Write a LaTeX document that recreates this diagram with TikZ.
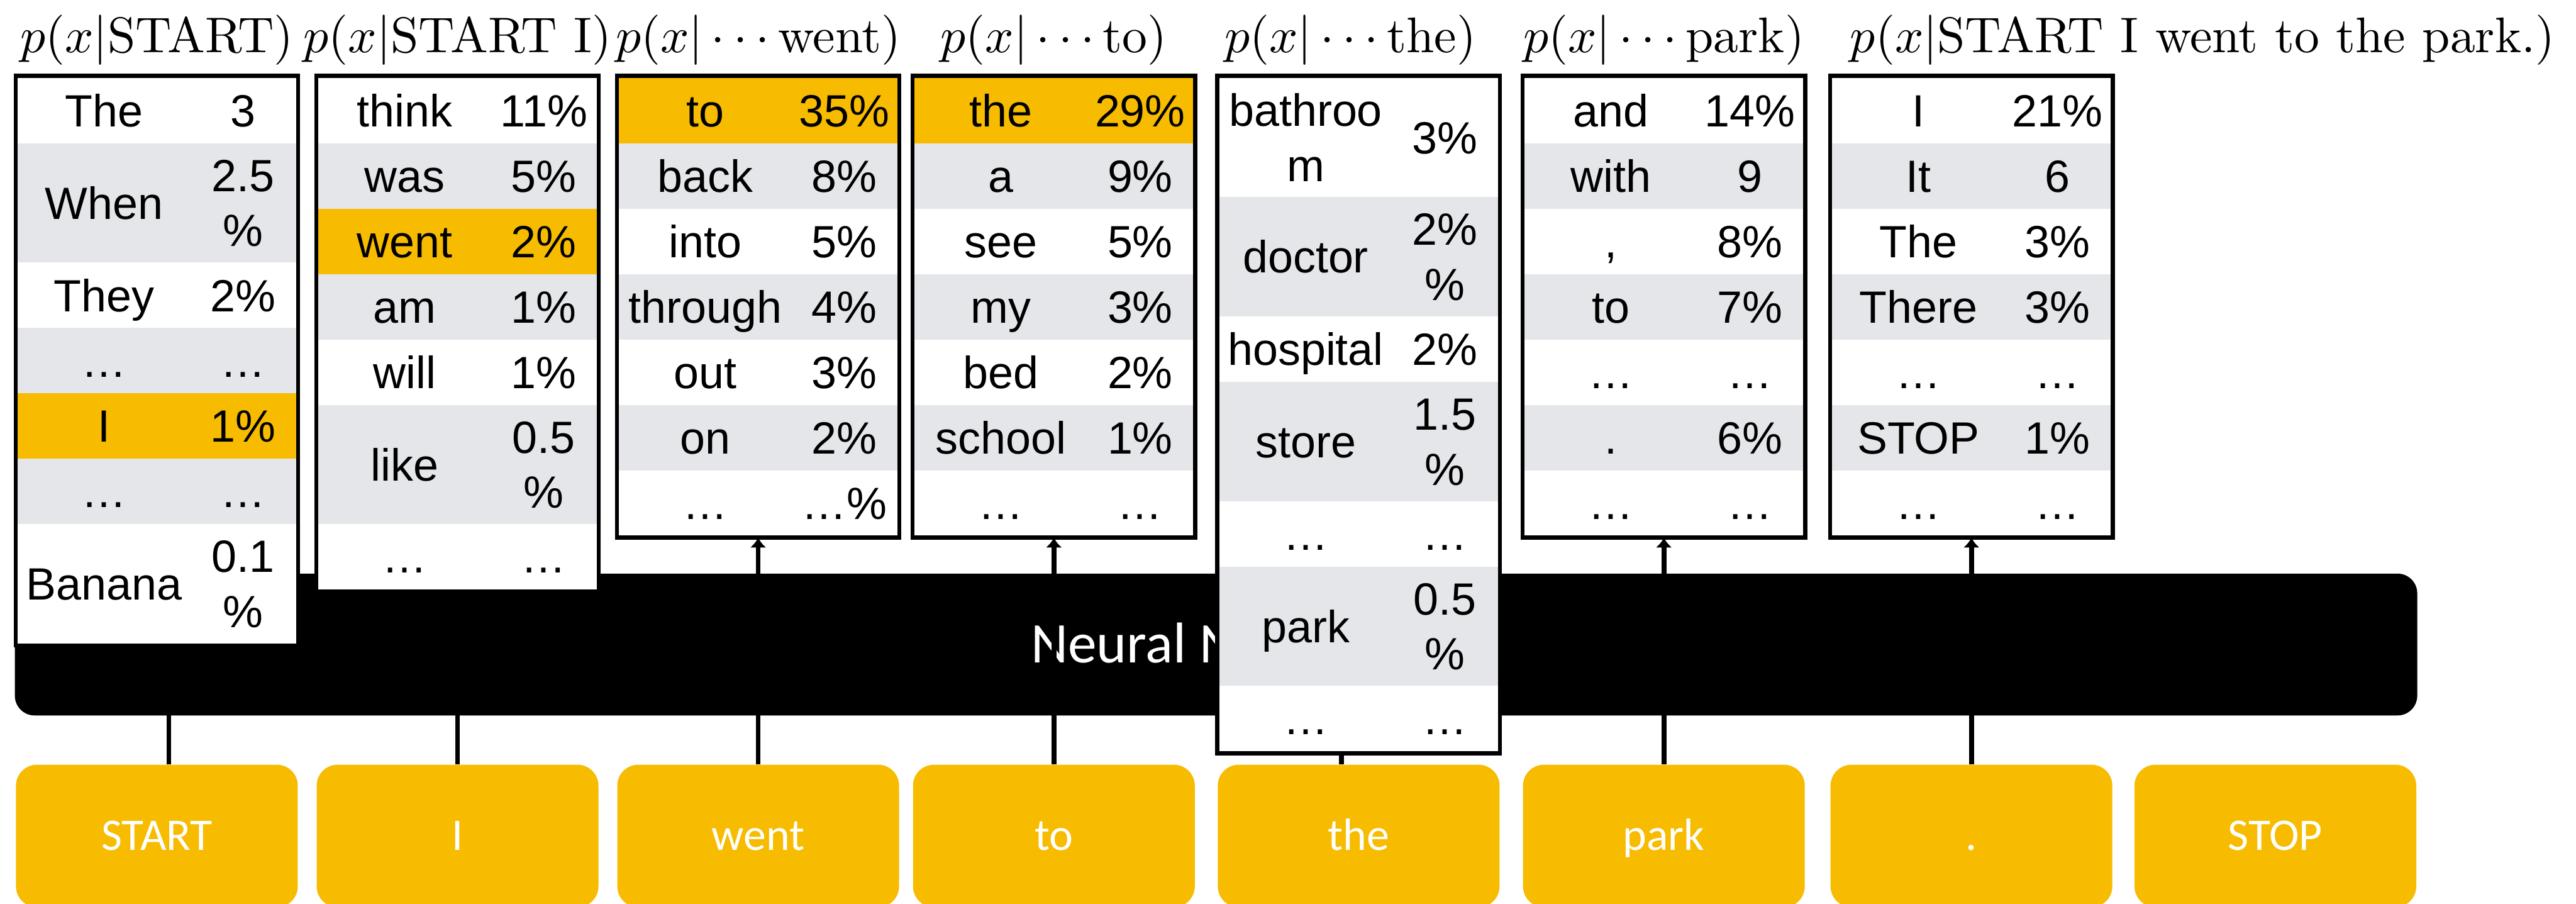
\RequirePackage{fix-cm}
\documentclass[tikz,border=0pt]{standalone}
\usepackage{amsmath}
\usepackage{graphicx}
\usepackage{fontspec}
\usepackage{xcolor}
\usetikzlibrary{matrix,arrows.meta}
\newfontfamily\arialfont{Liberation Sans}
\newfontfamily\calibrifont{Carlito}
\definecolor{hilite}{RGB}{247,187,0}
\definecolor{rowgray}{RGB}{229,230,234}
\pgfdeclarelayer{back}
\pgfsetlayers{back,main}
% two lines in one cell, baseline on the first line
\newcommand\stk[2]{\begin{tabular}[t]{@{}c@{}}#1\\#2\end{tabular}}
% heading formulas, set at 10pt and blown up
\newcommand\bigtitle[1]{\scalebox{3.05}{$#1$}}
\newcommand\dotsprev{\,{\cdot}\,{\cdot}\,{\cdot}\,}

\tikzset{
	probs/.style={matrix of nodes, draw, line width=2.5pt, fill=white,
		inner sep=1.25pt, outer sep=0pt, matrix anchor=north,
		nodes={anchor=center, inner sep=0pt, outer sep=0pt,
			minimum height=39.8pt, text height=19.7pt, text depth=0pt,
			font=\fontsize{27.5}{33.6}\selectfont\arialfont},
		column 1/.style={nodes={minimum width=105pt}},
		column 2/.style={nodes={minimum width=64.5pt}},
		every even row/.style={nodes={fill=rowgray}}},
	hl/.style={nodes={fill=hilite}},
	dbl/.style={nodes={minimum height=72.6pt}},
	two/.style={text height=20pt, text depth=34pt},
	tok/.style={fill=hilite, rounded corners=12.7pt, minimum width=171.5pt,
		minimum height=86.7pt, text=white, text height=17.7pt, text depth=0pt,
		font=\fontsize{27.5}{33}\selectfont\calibrifont},
	net/.style={fill=black, rounded corners=12pt, minimum width=1462.3pt,
		minimum height=86.3pt, text=white, text height=22.5pt, text depth=0pt,
		font=\fontsize{35}{42}\selectfont\calibrifont},
	ttl/.style={anchor=base, inner sep=0pt},
	link/.style={line width=3pt},
	arr/.style={link, -{Latex[length=6pt,width=10pt]}}
}

\begin{document}
\begin{tikzpicture}[x=1pt,y=-1pt]
	\useasboundingbox (0,0) rectangle (1568,550);

	\matrix[probs, row 2/.style={dbl}, row 5/.style={hl}, row 7/.style={dbl}] (d1) at (95.5,46.1) {
		The & 3 \\
		When & |[two]| \stk{2.5}{\%} \\
		They & 2\% \\
		… & … \\
		I & 1\% \\
		… & … \\
		Banana & |[two]| \stk{0.1}{\%} \\
	};
	\matrix[probs, row 3/.style={hl}, row 6/.style={dbl}] (d2) at (278.5,46.1) {
		think & 11\% \\
		was & 5\% \\
		went & 2\% \\
		am & 1\% \\
		will & 1\% \\
		like & |[two]| \stk{0.5}{\%} \\
		… & … \\
	};
	\matrix[probs, row 1/.style={hl}] (d3) at (461.5,46.1) {
		to & 35\% \\
		back & 8\% \\
		into & 5\% \\
		through & 4\% \\
		out & 3\% \\
		on & 2\% \\
		… & …\% \\
	};
	\matrix[probs, row 1/.style={hl}] (d4) at (641.5,46.1) {
		the & 29\% \\
		a & 9\% \\
		see & 5\% \\
		my & 3\% \\
		bed & 2\% \\
		school & 1\% \\
		… & … \\
	};
	\matrix[probs, row 1/.style={dbl}, row 2/.style={dbl}, row 4/.style={dbl}, row 6/.style={dbl,hl}] (d5) at (827,46.1) {
		|[two]| \stk{bathroo}{m} & 3\% \\
		doctor & |[two]| \stk{2\%}{\%} \\
		hospital & 2\% \\
		store & |[two]| \stk{1.5}{\%} \\
		… & … \\
		park & |[two]| \stk{0.5}{\%} \\
		… & … \\
	};
	\matrix[probs, row 6/.style={hl}] (d6) at (1012.8,46.1) {
		and & 14\% \\
		with & 9 \\
		, & 8\% \\
		to & 7\% \\
		… & … \\
		. & 6\% \\
		… & … \\
	};
	\matrix[probs, row 6/.style={hl}] (d7) at (1200,46.1) {
		I & 21\% \\
		It & 6 \\
		The & 3\% \\
		There & 3\% \\
		… & … \\
		STOP & 1\% \\
		… & … \\
	};

	\node[ttl] (p1) at ([yshift=14.3pt]d1.north) {\bigtitle{p(x|\text{START})}};
	\node[ttl] (p2) at ([yshift=14.3pt]d2.north) {\bigtitle{p(x|\text{START I})}};
	\node[ttl] (p3) at ([yshift=14.3pt]d3.north) {\bigtitle{p(x|\dotsprev\text{went})}};
	\node[ttl] (p4) at ([yshift=14.3pt]d4.north) {\bigtitle{p(x|\dotsprev\text{to})}};
	\node[ttl] (p5) at ([xshift=-5pt,yshift=14.3pt]d5.north) {\bigtitle{p(x|\dotsprev\text{the})}};
	\node[ttl] (p6) at ([yshift=14.3pt]d6.north) {\bigtitle{p(x|\dotsprev\text{park})}};
	\node[ttl, anchor=base west] (p7) at ([xshift=12pt,yshift=14.3pt]d7.north west) {\bigtitle{p(x|\text{START I went to the park.})}};

	\node[tok] (w1) at (95.5,508.7) {START};
	\node[tok] (w2) at (278.5,508.7) {I};
	\node[tok] (w3) at (461.5,508.7) {went};
	\node[tok] (w4) at (641.5,508.7) {to};
	\node[tok] (w5) at (827,508.7) {the};
	\node[tok] (w6) at (1012.8,508.7) {park};
	\node[tok] (w7) at (1200,508.7) {.};
	\node[tok] (w8) at (1385,508.7) {STOP};

	\begin{pgfonlayer}{back}
		\node[net] (nn) at (740.2,392.2) {Neural Network};
		\draw[arr] ([xshift=7.3pt]w1.north) -- ([xshift=7.3pt]d1.south);
		\draw[arr] (w2) -- (d2);
		\draw[arr] (w3) -- (d3);
		\draw[arr] (w4) -- (d4);
		\draw[link] ([xshift=-10.5pt]w5.north) -- ([xshift=-10.5pt]d5.south);
		\draw[arr] (w6) -- (d6);
		\draw[arr] (w7) -- (d7);
	\end{pgfonlayer}
\end{tikzpicture}
\end{document}
